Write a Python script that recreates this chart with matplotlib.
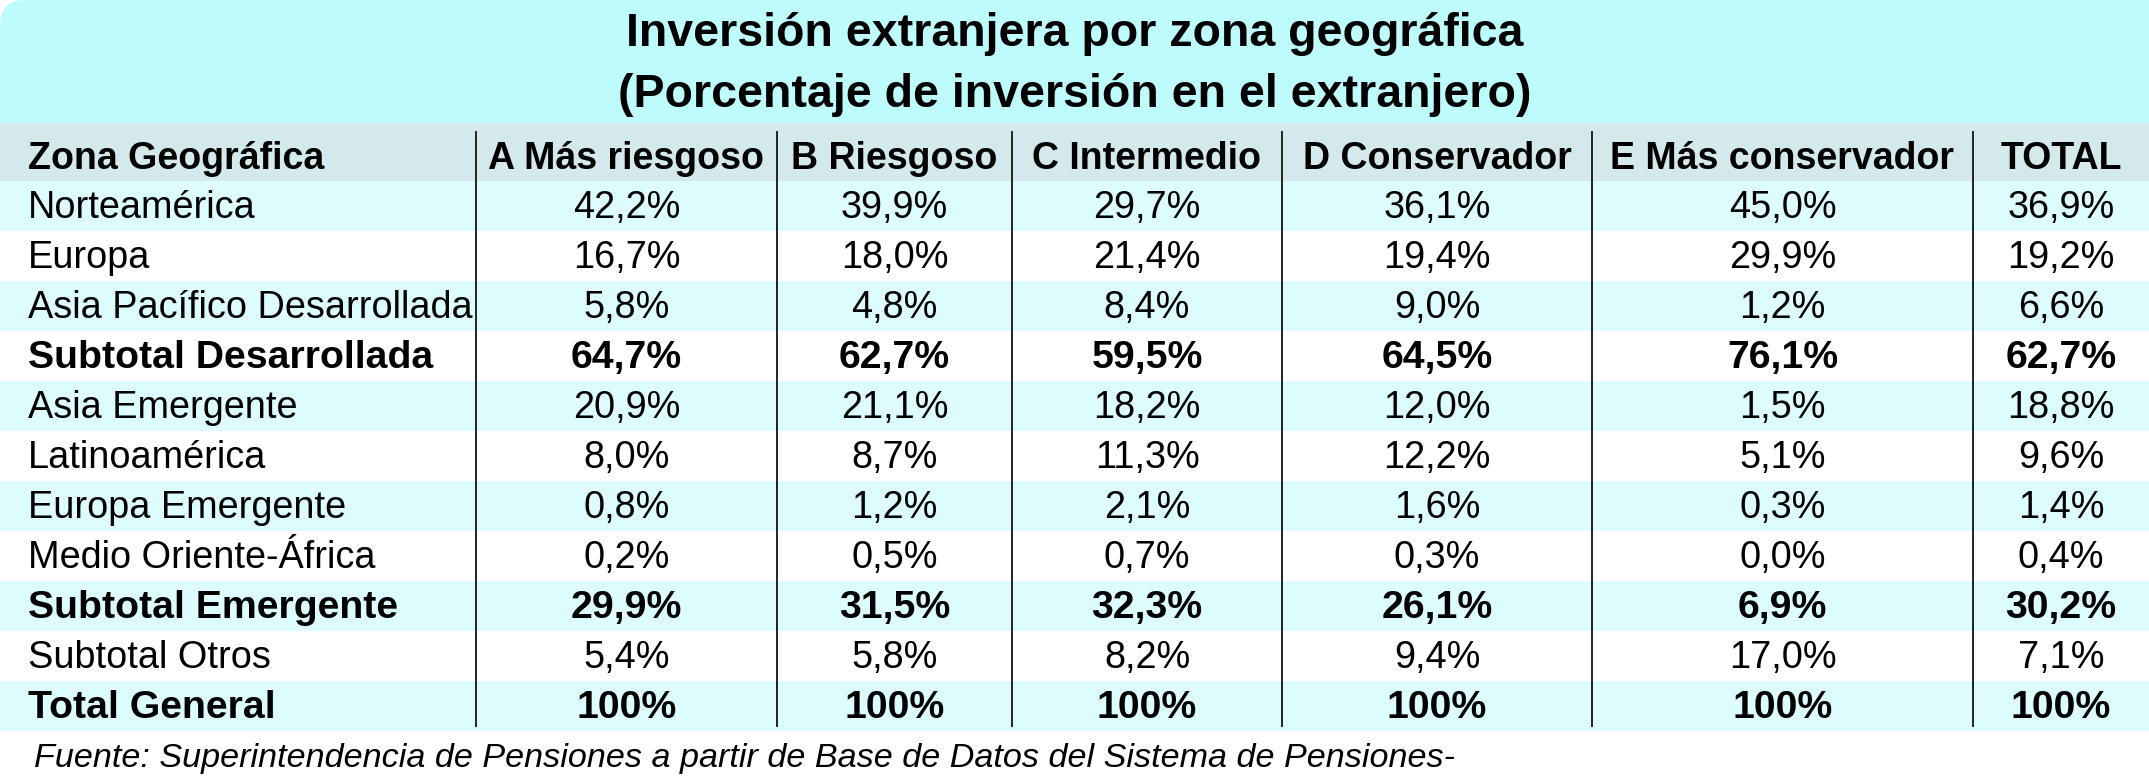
import matplotlib as mpl
mpl.use('Agg')
import matplotlib.pyplot as plt
from matplotlib.patches import Rectangle, FancyBboxPatch

# ========================================================================================
# datos

titulo = ["Inversión extranjera por zona geográfica",
          "(Porcentaje de inversión en el extranjero)"]
fuente = "Fuente: Superintendencia de Pensiones a partir de Base de Datos del Sistema de Pensiones-"

columnas = ["A Más riesgoso", "B Riesgoso", "C Intermedio", "D Conservador",
            "E Más conservador", "TOTAL"]

zonas = ["Norteamérica", "Europa", "Asia Pacífico Desarrollada", "Subtotal Desarrollada",
         "Asia Emergente", "Latinoamérica", "Europa Emergente", "Medio Oriente-África",
         "Subtotal Emergente", "Subtotal Otros", "Total General"]

filas_negrita = ["Subtotal Desarrollada", "Subtotal Emergente", "Total General"]

norteamerica = [42.2, 39.9, 29.7, 36.1, 45.0, 36.9]
europa = [16.7, 18.0, 21.4, 19.4, 29.9, 19.2]
asia_pacifico = [5.8, 4.8, 8.4, 9.0, 1.2, 6.6]
subtotal_desarrollada = [64.7, 62.7, 59.5, 64.5, 76.1, 62.7]
asia_emergente = [20.9, 21.1, 18.2, 12.0, 1.5, 18.8]
latinoamerica = [8.0, 8.7, 11.3, 12.2, 5.1, 9.6]
europa_emergente = [0.8, 1.2, 2.1, 1.6, 0.3, 1.4]
medio_oriente = [0.2, 0.5, 0.7, 0.3, 0.0, 0.4]
subtotal_emergente = [29.9, 31.5, 32.3, 26.1, 6.9, 30.2]
subtotal_otros = [5.4, 5.8, 8.2, 9.4, 17.0, 7.1]
total_general = [100, 100, 100, 100, 100, 100]

valores = [norteamerica, europa, asia_pacifico, subtotal_desarrollada, asia_emergente,
           latinoamerica, europa_emergente, medio_oriente, subtotal_emergente,
           subtotal_otros, total_general]

# ========================================================================================
# mise en page (pixels)

W, H = 2149, 782
separadores = [476, 777, 1012, 1282, 1592, 1973, W]
y_banner = 123
y_header = 181
alto_fila = 50

azul_banner = "#bdfbfd"
gris_header = "#d3e9eb"
azul_fila = "#dcfcfd"

familia = ["Liberation Sans", "DejaVu Sans"]


def formato(v):
    if v == 100:
        return "100%"
    return ("%.1f" % v).replace(".", ",") + "%"


fig = plt.figure(figsize=(W / 100, H / 100), dpi=100)
ax = fig.add_axes([0, 0, 1, 1])
ax.set_xlim(0, W)
ax.set_ylim(H, 0)
ax.axis("off")

# bandeau du titre, coin haut gauche arrondi
ax.add_patch(FancyBboxPatch((0, 0), W, y_banner + 40, boxstyle="round,pad=0,rounding_size=25",
                            fc=azul_banner, ec="none"))
ax.add_patch(Rectangle((W / 2, 0), W / 2, y_banner + 40, fc=azul_banner, ec="none"))
for ligne, y in zip(titulo, [34, 95]):
    ax.text(W / 2, y, ligne, ha="center", va="center", fontsize=33.5, fontweight="bold",
            family=familia)

# ligne d'en-tete
y_txt_header = (y_banner + y_header) / 2 + 7
ax.add_patch(Rectangle((0, y_banner), W, y_header - y_banner, fc=gris_header, ec="none"))
ax.text(28, y_txt_header, "Zona Geográfica", ha="left", va="center",
        fontsize=27, fontweight="bold", family=familia)
for i, col in enumerate(columnas):
    xc = (separadores[i] + separadores[i + 1]) / 2
    ax.text(xc, y_txt_header, col, ha="center", va="center",
            fontsize=27, fontweight="bold", family=familia)

# lignes de donnees
for j, (zona, fila) in enumerate(zip(zonas, valores)):
    y0 = y_header + j * alto_fila
    if j % 2 == 0:
        ax.add_patch(Rectangle((0, y0), W, alto_fila, fc=azul_fila, ec="none"))
    negrita = zona in filas_negrita
    peso = "bold" if negrita else "normal"
    taille = 28.3 if negrita else 27.3
    yc = y0 + alto_fila / 2 + 2
    ax.text(28, yc, zona, ha="left", va="center", fontsize=taille, fontweight=peso,
            family=familia)
    for i, v in enumerate(fila):
        xc = (separadores[i] + separadores[i + 1]) / 2
        ax.text(xc, yc, formato(v), ha="center", va="center", fontsize=taille,
                fontweight=peso, family=familia)

# separateurs verticaux
y_fin = y_header + len(zonas) * alto_fila - 5
for x in separadores[:-1]:
    ax.plot([x, x], [y_banner + 9, y_fin], color="#222222", lw=1.4)

ax.text(34, 758, fuente, ha="left", va="center", fontsize=24.6, style="italic",
        family=familia)

plt.savefig("out.png", dpi=100)
